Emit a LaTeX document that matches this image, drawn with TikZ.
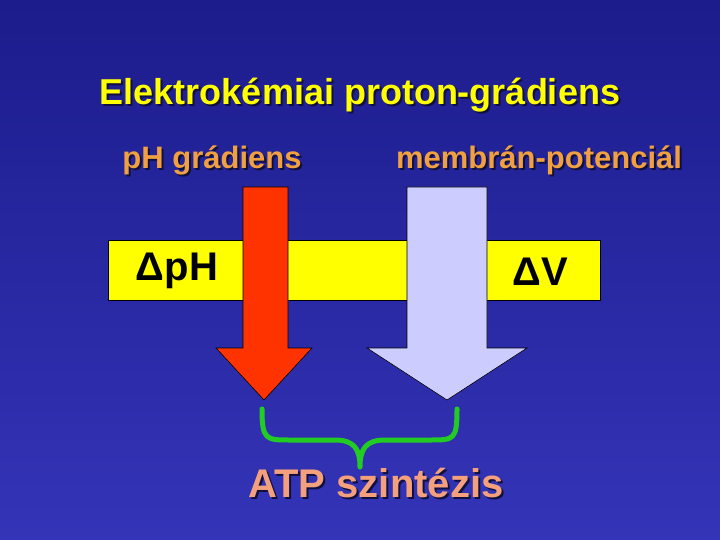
\documentclass[tikz,border=0pt]{standalone}
\usepackage{fontspec}
\setmainfont{Liberation Sans}
\begin{document}
\begin{tikzpicture}[x=1pt,y=-1pt,
  btxt/.style={font=\bfseries\fontsize{#1}{#1}\selectfont,inner sep=0pt},
  arr/.style={draw=black,line width=0.6pt,line join=miter}]
\definecolor{bgtop}{HTML}{1C1C8C}\definecolor{bgbot}{HTML}{3434B8}
\definecolor{ylw}{HTML}{FFFF00}\definecolor{lav}{HTML}{CCCCFF}
\definecolor{rd}{HTML}{FF3300}\definecolor{peach}{HTML}{F4A07C}
\definecolor{orng}{HTML}{F0A040}\definecolor{shd}{HTML}{101040}
\definecolor{grn}{HTML}{22CC22}
\useasboundingbox (0,0) rectangle (720,540);
\shade[top color=bgtop,bottom color=bgbot] (0,0) rectangle (720,540);
% title
\node[btxt=36,text=shd] at (362,97) {Elektrokémiai proton-grádiens};
\node[btxt=36,text=ylw] (title) at (360,95) {Elektrokémiai proton-grádiens};
\node[btxt=31,text=shd] at (214,162) {pH grádiens};
\node[btxt=31,text=orng] (ph) at (212,160) {pH grádiens};
\node[btxt=31,text=shd] at (541,162) {membrán-potenciál};
\node[btxt=31,text=orng] (mp) at (539,160) {membrán-potenciál};
% bar
\draw[fill=ylw,draw=black,line width=0.6pt] (108,240) rectangle (600,300);
\node[btxt=40] (dph) at (177,271) {ΔpH};
\node[btxt=40] (dv) at (540,272) {ΔV};
% arrows
\draw[arr,fill=rd] (243,187) -- (288,187) -- (288,348) -- (312,348) -- (264,400) -- (216,348) -- (243,348) -- cycle;
\draw[arr,fill=lav] (407,187) -- (487,187) -- (487,348) -- (527,348) -- (447,400) -- (367,348) -- (407,348) -- cycle;
% brace
\draw[grn,line width=5pt,line cap=round,line join=round]
  (262,409) .. controls (262,440) and (266,440) .. (290,440) -- (335,440)
  .. controls (355,440) and (360,450) .. (360,467)
  .. controls (360,450) and (365,440) .. (385,440) -- (430,440)
  .. controls (454,440) and (457,440) .. (457,409);
\node[btxt=40,text=shd] at (378,485) {ATP szintézis};
\node[btxt=40,text=peach] (atp) at (376,483) {ATP szintézis};
\end{tikzpicture}
\end{document}
